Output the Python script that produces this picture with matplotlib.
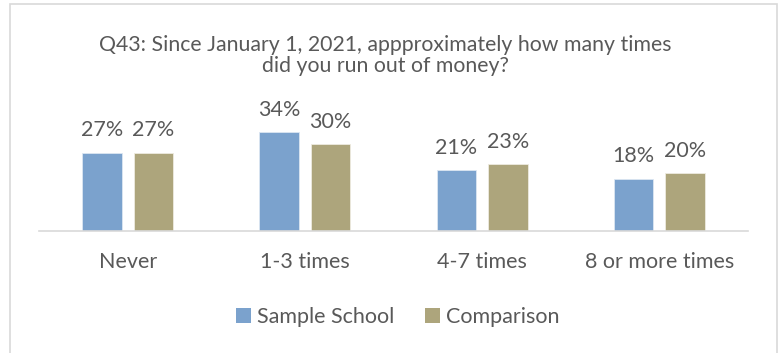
import numpy as np
import matplotlib.pyplot as plt
from matplotlib.patches import Patch, Rectangle

categories = ['Never', '1-3 times', '4-7 times', '8 or more times']
sample_school = [27, 34, 21, 18]
comparison = [27, 30, 23, 20]
series_names = ['Sample School', 'Comparison']
title = 'Q43: Since January 1, 2021, appproximately how many times\ndid you run out of money?'

blue = '#7BA2CD'
khaki = '#ADA57C'
text_gray = '#595959'
plt.rcParams['font.family'] = ['Lato', 'DejaVu Sans']

fig = plt.figure(figsize=(7.8, 3.53), dpi=100)
ax = fig.add_axes([0.05, 0.3456, 0.909, 0.3286])

x = np.arange(len(categories))
width = 0.223
offset = 0.1455
bars1 = ax.bar(x - offset, sample_school, width, color=blue, edgecolor='#DCE6F2', linewidth=0.6)
bars2 = ax.bar(x + offset, comparison, width, color=khaki, edgecolor='#EEEBE0', linewidth=0.6)

# value labels sit a fixed distance above each bar
for bars, vals in ((bars1, sample_school), (bars2, comparison)):
    for b, v in zip(bars, vals):
        ax.annotate(f'{v}%', (b.get_x() + b.get_width() / 2, v), xytext=(0, 9),
                    textcoords='offset points', ha='center', va='bottom',
                    fontsize=15.5, color=text_gray)

ax.set_xlim(-0.5, 3.5)
ax.set_ylim(0, 40)
ax.set_xticks(x)
ax.set_xticklabels(categories, fontsize=15.5, color=text_gray)
ax.tick_params(axis='x', length=0, pad=15)
ax.set_yticks([])
for side in ('left', 'right', 'top'):
    ax.spines[side].set_visible(False)
ax.spines['bottom'].set_color('#D9D9D9')
ax.spines['bottom'].set_linewidth(1.2)

fig.text(0.494, 0.843, title, ha='center', va='center', fontsize=15.3,
         color=text_gray, linespacing=1.1)

handles = [Patch(facecolor=blue), Patch(facecolor=khaki)]
fig.legend(handles, series_names, loc='center', bbox_to_anchor=(0.51, 0.102), ncol=2,
           frameon=False, fontsize=15.5, handlelength=0.7, handleheight=0.7,
           handletextpad=0.3, columnspacing=1.4, labelcolor=text_gray)

# chart area border
fig.patches.append(Rectangle((10 / 780, -0.05), 767 / 780, 1.05 - 4 / 353,
                             transform=fig.transFigure, fill=False,
                             edgecolor='#D9D9D9', linewidth=1.2))

fig.savefig('out.png', dpi=100)
